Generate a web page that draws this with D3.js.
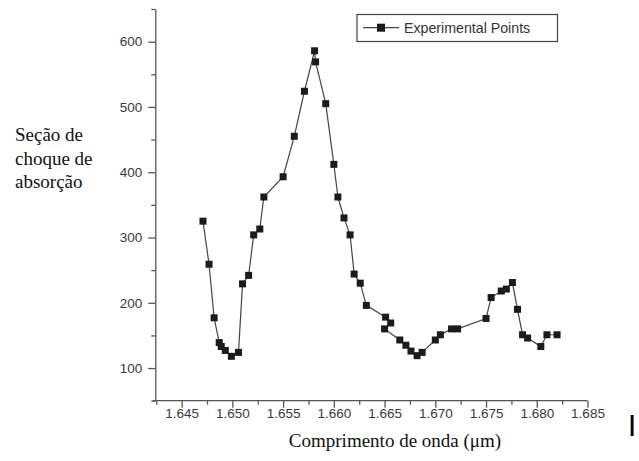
<!DOCTYPE html>
<html>
<head>
<meta charset="utf-8">
<script src="https://cdn.jsdelivr.net/npm/d3@7"></script>
<style>
  body { margin: 0; background: #fff; }
  svg { display: block; }
</style>
</head>
<body>
<svg id="chart" width="639" height="461"></svg>
<script>
// wavelength (um) and absorption cross-section
const wavelength = [1.6471, 1.6477, 1.6482, 1.6487, 1.6489, 1.6493, 1.6499, 1.6506,
   1.6510, 1.6516, 1.6521, 1.6527, 1.6531, 1.6550, 1.6561, 1.6571, 1.6581, 1.6582,
   1.6592, 1.6600, 1.6604, 1.6610, 1.6616, 1.6620, 1.6626, 1.6632, 1.6651, 1.6656,
   1.6650, 1.6665, 1.6671, 1.6676, 1.6682, 1.6687, 1.6700, 1.6705, 1.6716, 1.6722,
   1.6750, 1.6755, 1.6765, 1.6770, 1.6776, 1.6781, 1.6786, 1.6791, 1.6804, 1.6810, 1.6820];
const absorption = [325, 259, 177, 139, 133, 127, 118, 124,
   229, 242, 304, 313, 362, 393, 455, 524, 586, 569,
   505, 412, 362, 330, 304, 244, 230, 196, 178, 169,
   160, 143, 135, 126, 119, 124, 143, 151, 160, 160,
   176, 208, 218, 221, 231, 190, 151, 146, 133, 151, 151];

const xMajorTicks = [1.645, 1.650, 1.655, 1.660, 1.665, 1.670, 1.675, 1.680, 1.685];
const xMinorTicks = [1.6425, 1.6475, 1.6525, 1.6575, 1.6625, 1.6675, 1.6725, 1.6775, 1.6825];
const yMajorTicks = [100, 200, 300, 400, 500, 600];
const yMinorTicks = [50, 150, 250, 350, 450, 550, 650];
const yTitleLines = ["Seção de", "choque de", "absorção"];
const xTitle = "Comprimento de onda (μm)";
const legendLabel = "Experimental Points";

const data = wavelength.map((w, i) => ({ x: w, y: absorption[i] }));

const svg = d3.select("#chart");
const axisColor = "#555";
const tickFont = "'Liberation Sans', Arial, sans-serif";
const serif = "'Liberation Serif', 'Times New Roman', serif";

const x = d3.scaleLinear().domain([1.6425, 1.685]).range([156.3, 587.5]);
const y = d3.scaleLinear().domain([50, 650]).range([400.7, 9]);

// x axis
const gx = svg.append("g").attr("transform", `translate(0,${y(50)})`);
gx.call(d3.axisBottom(x).tickValues(xMajorTicks).tickSize(7).tickPadding(1)
   .tickFormat(d3.format(".3f")).tickSizeOuter(0));
gx.append("g").call(d3.axisBottom(x).tickValues(xMinorTicks).tickSize(4)
   .tickFormat("").tickSizeOuter(0))
   .select(".domain").remove();
gx.select(".domain").attr("d", `M${x(1.6425) - 3.5},0H${x(1.685)}`);

// y axis
const gy = svg.append("g").attr("transform", `translate(${x(1.6425) - 1},0)`);
gy.call(d3.axisLeft(y).tickValues(yMajorTicks).tickSize(7).tickPadding(6).tickSizeOuter(0));
gy.append("g").call(d3.axisLeft(y).tickValues(yMinorTicks).tickSize(4)
   .tickFormat("").tickSizeOuter(0))
   .select(".domain").remove();

svg.selectAll(".domain, .tick line")
   .attr("stroke", axisColor)
   .attr("stroke-width", 1.3);
svg.selectAll(".tick text")
   .attr("fill", "#3a3a3a")
   .style("font-family", tickFont)
   .style("font-size", "13.5px");

// line + square markers
const line = d3.line().x(d => x(d.x)).y(d => y(d.y));
svg.append("path")
   .datum(data)
   .attr("d", line)
   .attr("fill", "none")
   .attr("stroke", "#444")
   .attr("stroke-width", 1.2);

const ms = 7;
svg.append("g")
   .selectAll("rect")
   .data(data)
   .enter()
   .append("rect")
   .attr("x", d => x(d.x) - ms / 2)
   .attr("y", d => y(d.y) - ms / 2)
   .attr("width", ms)
   .attr("height", ms)
   .attr("fill", "#1b1b1b");

// legend
const lg = svg.append("g");
lg.append("rect")
   .attr("x", 357).attr("y", 14.5)
   .attr("width", 200.5).attr("height", 27)
   .attr("fill", "#fff")
   .attr("stroke", "#444")
   .attr("stroke-width", 1.2);
lg.append("line")
   .attr("x1", 363).attr("x2", 399)
   .attr("y1", 27.7).attr("y2", 27.7)
   .attr("stroke", "#444").attr("stroke-width", 1.2);
lg.append("rect")
   .attr("x", 381 - 4).attr("y", 27.7 - 4)
   .attr("width", 8).attr("height", 8)
   .attr("fill", "#1b1b1b");
lg.append("text")
   .attr("x", 404).attr("y", 32.7)
   .attr("fill", "#333")
   .style("font-family", tickFont)
   .style("font-size", "14.2px")
   .text(legendLabel);

// axis titles
svg.append("text")
   .attr("x", 395).attr("y", 447)
   .attr("text-anchor", "middle")
   .attr("fill", "#111")
   .style("font-family", serif)
   .style("font-size", "19px")
   .text(xTitle);

svg.append("g")
   .selectAll("text")
   .data(yTitleLines)
   .enter()
   .append("text")
   .attr("x", 15)
   .attr("y", (d, i) => 141 + i * 23.5)
   .attr("fill", "#111")
   .style("font-family", serif)
   .style("font-size", "19px")
   .text(d => d);

// stray cursor bar at right edge of the original image
svg.append("text")
   .attr("x", 629).attr("y", 431)
   .attr("fill", "#000")
   .style("font-family", tickFont)
   .style("font-size", "22px")
   .style("font-weight", "bold")
   .text("|");
</script>
</body>
</html>
